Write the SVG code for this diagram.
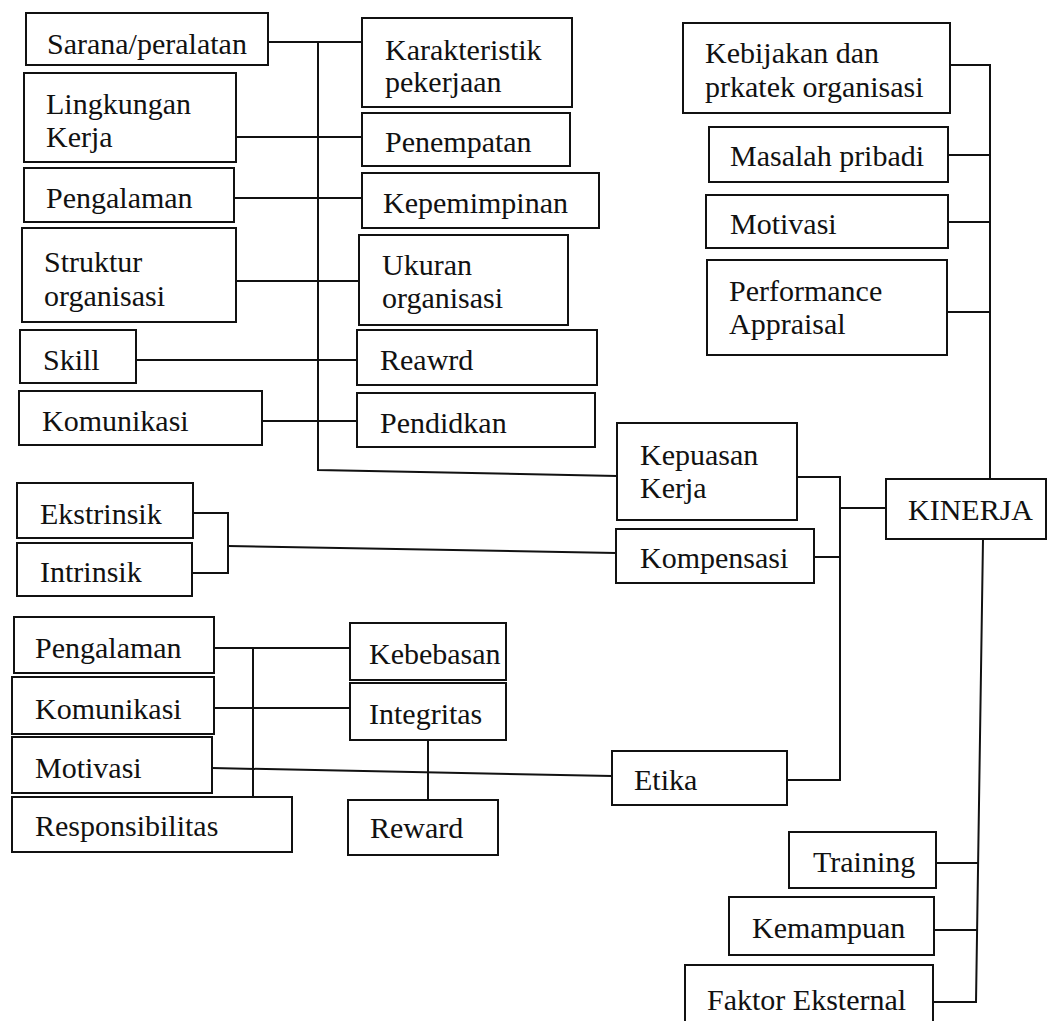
<svg xmlns="http://www.w3.org/2000/svg" width="1048" height="1021" viewBox="0 0 1048 1021">
  <style>
    .box rect { fill: #fff; stroke: #111; stroke-width: 2; }
    .box text { font-family: "Liberation Serif", "DejaVu Serif", serif; font-size: 30px; fill: #111; }
    .wires path { fill: none; stroke: #111; stroke-width: 2; }
  </style>
  <rect width="1048" height="1021" fill="#fff"/>

  <!-- connectors -->
  <g class="wires">
    <!-- left bus: work-satisfaction factors -->
    <path d="M318,42 V470 L617,476"/>
    <path d="M268,42 H362"/>
    <path d="M236,137 H362"/>
    <path d="M234,198 H362"/>
    <path d="M236,281 H359"/>
    <path d="M136,360 H357"/>
    <path d="M262,421 H357"/>
    <!-- compensation bracket -->
    <path d="M193,513 H228 V573 H192"/>
    <path d="M228,546 L616,553"/>
    <!-- middle bus into KINERJA -->
    <path d="M797,477 H840 V780 H787"/>
    <path d="M814,557 H840"/>
    <path d="M840,508 H886"/>
    <!-- right bus, upper -->
    <path d="M950,65 H990 V479"/>
    <path d="M948,155 H990"/>
    <path d="M948,222 H990"/>
    <path d="M947,312 H990"/>
    <!-- right bus, lower -->
    <path d="M983,539 L976,1002 H933"/>
    <path d="M936,863 H978"/>
    <path d="M934,930 H977"/>
    <!-- ethics cluster -->
    <path d="M214,648 H350"/>
    <path d="M214,708 H350"/>
    <path d="M212,768 L612,776"/>
    <path d="M253,648 V797"/>
    <path d="M428,740 V800"/>
  </g>

  <!-- left column -->
  <g id="sarana" class="box"><rect x="26" y="13" width="242" height="52"/><text x="47" y="54">Sarana/peralatan</text></g>
  <g id="lingkungan" class="box"><rect x="24" y="73" width="212" height="89"/><text x="46" y="114">Lingkungan</text><text x="46" y="147">Kerja</text></g>
  <g id="pengalaman-1" class="box"><rect x="24" y="168" width="210" height="54"/><text x="46" y="208">Pengalaman</text></g>
  <g id="struktur" class="box"><rect x="22" y="228" width="214" height="94"/><text x="44" y="272">Struktur</text><text x="44" y="306">organisasi</text></g>
  <g id="skill" class="box"><rect x="20" y="330" width="116" height="53"/><text x="43" y="370">Skill</text></g>
  <g id="komunikasi-1" class="box"><rect x="19" y="391" width="243" height="54"/><text x="42" y="431">Komunikasi</text></g>

  <!-- middle column -->
  <g id="karakteristik" class="box"><rect x="362" y="18" width="210" height="89"/><text x="385" y="60">Karakteristik</text><text x="385" y="92">pekerjaan</text></g>
  <g id="penempatan" class="box"><rect x="362" y="113" width="208" height="53"/><text x="385" y="152">Penempatan</text></g>
  <g id="kepemimpinan" class="box"><rect x="362" y="173" width="237" height="55"/><text x="383" y="213">Kepemimpinan</text></g>
  <g id="ukuran" class="box"><rect x="359" y="235" width="209" height="90"/><text x="382" y="275">Ukuran</text><text x="382" y="308">organisasi</text></g>
  <g id="reawrd" class="box"><rect x="357" y="330" width="240" height="55"/><text x="380" y="370">Reawrd</text></g>
  <g id="pendidkan" class="box"><rect x="357" y="393" width="238" height="54"/><text x="380" y="433">Pendidkan</text></g>

  <!-- right column, upper -->
  <g id="kebijakan" class="box"><rect x="683" y="23" width="267" height="90"/><text x="705" y="63">Kebijakan dan</text><text x="705" y="97">prkatek organisasi</text></g>
  <g id="masalah" class="box"><rect x="709" y="127" width="239" height="55"/><text x="730" y="166">Masalah pribadi</text></g>
  <g id="motivasi-1" class="box"><rect x="706" y="195" width="242" height="53"/><text x="730" y="234">Motivasi</text></g>
  <g id="performance" class="box"><rect x="707" y="260" width="240" height="95"/><text x="729" y="301">Performance</text><text x="729" y="334">Appraisal</text></g>

  <!-- centre -->
  <g id="kepuasan" class="box"><rect x="617" y="423" width="180" height="97"/><text x="640" y="465">Kepuasan</text><text x="640" y="498">Kerja</text></g>
  <g id="kompensasi" class="box"><rect x="616" y="529" width="198" height="54"/><text x="640" y="568">Kompensasi</text></g>
  <g id="kinerja" class="box"><rect x="886" y="479" width="160" height="60"/><text x="908" y="520">KINERJA</text></g>
  <g id="ekstrinsik" class="box"><rect x="17" y="483" width="176" height="55"/><text x="40" y="524">Ekstrinsik</text></g>
  <g id="intrinsik" class="box"><rect x="17" y="543" width="175" height="53"/><text x="40" y="582">Intrinsik</text></g>

  <!-- ethics cluster -->
  <g id="pengalaman-2" class="box"><rect x="14" y="617" width="200" height="56"/><text x="35" y="658">Pengalaman</text></g>
  <g id="komunikasi-2" class="box"><rect x="12" y="677" width="202" height="57"/><text x="35" y="719">Komunikasi</text></g>
  <g id="motivasi-2" class="box"><rect x="12" y="737" width="200" height="56"/><text x="35" y="778">Motivasi</text></g>
  <g id="responsibilitas" class="box"><rect x="12" y="797" width="280" height="55"/><text x="35" y="836">Responsibilitas</text></g>
  <g id="kebebasan" class="box"><rect x="350" y="623" width="156" height="57"/><text x="369" y="664">Kebebasan</text></g>
  <g id="integritas" class="box"><rect x="350" y="683" width="156" height="57"/><text x="369" y="724">Integritas</text></g>
  <g id="reward" class="box"><rect x="348" y="800" width="150" height="55"/><text x="370" y="838">Reward</text></g>
  <g id="etika" class="box"><rect x="612" y="751" width="175" height="54"/><text x="634" y="790">Etika</text></g>

  <!-- right column, lower -->
  <g id="training" class="box"><rect x="789" y="832" width="147" height="56"/><text x="813" y="872">Training</text></g>
  <g id="kemampuan" class="box"><rect x="729" y="897" width="205" height="58"/><text x="752" y="938">Kemampuan</text></g>
  <g id="faktor" class="box"><rect x="685" y="965" width="248" height="70"/><text x="707" y="1010">Faktor Eksternal</text></g>
</svg>
